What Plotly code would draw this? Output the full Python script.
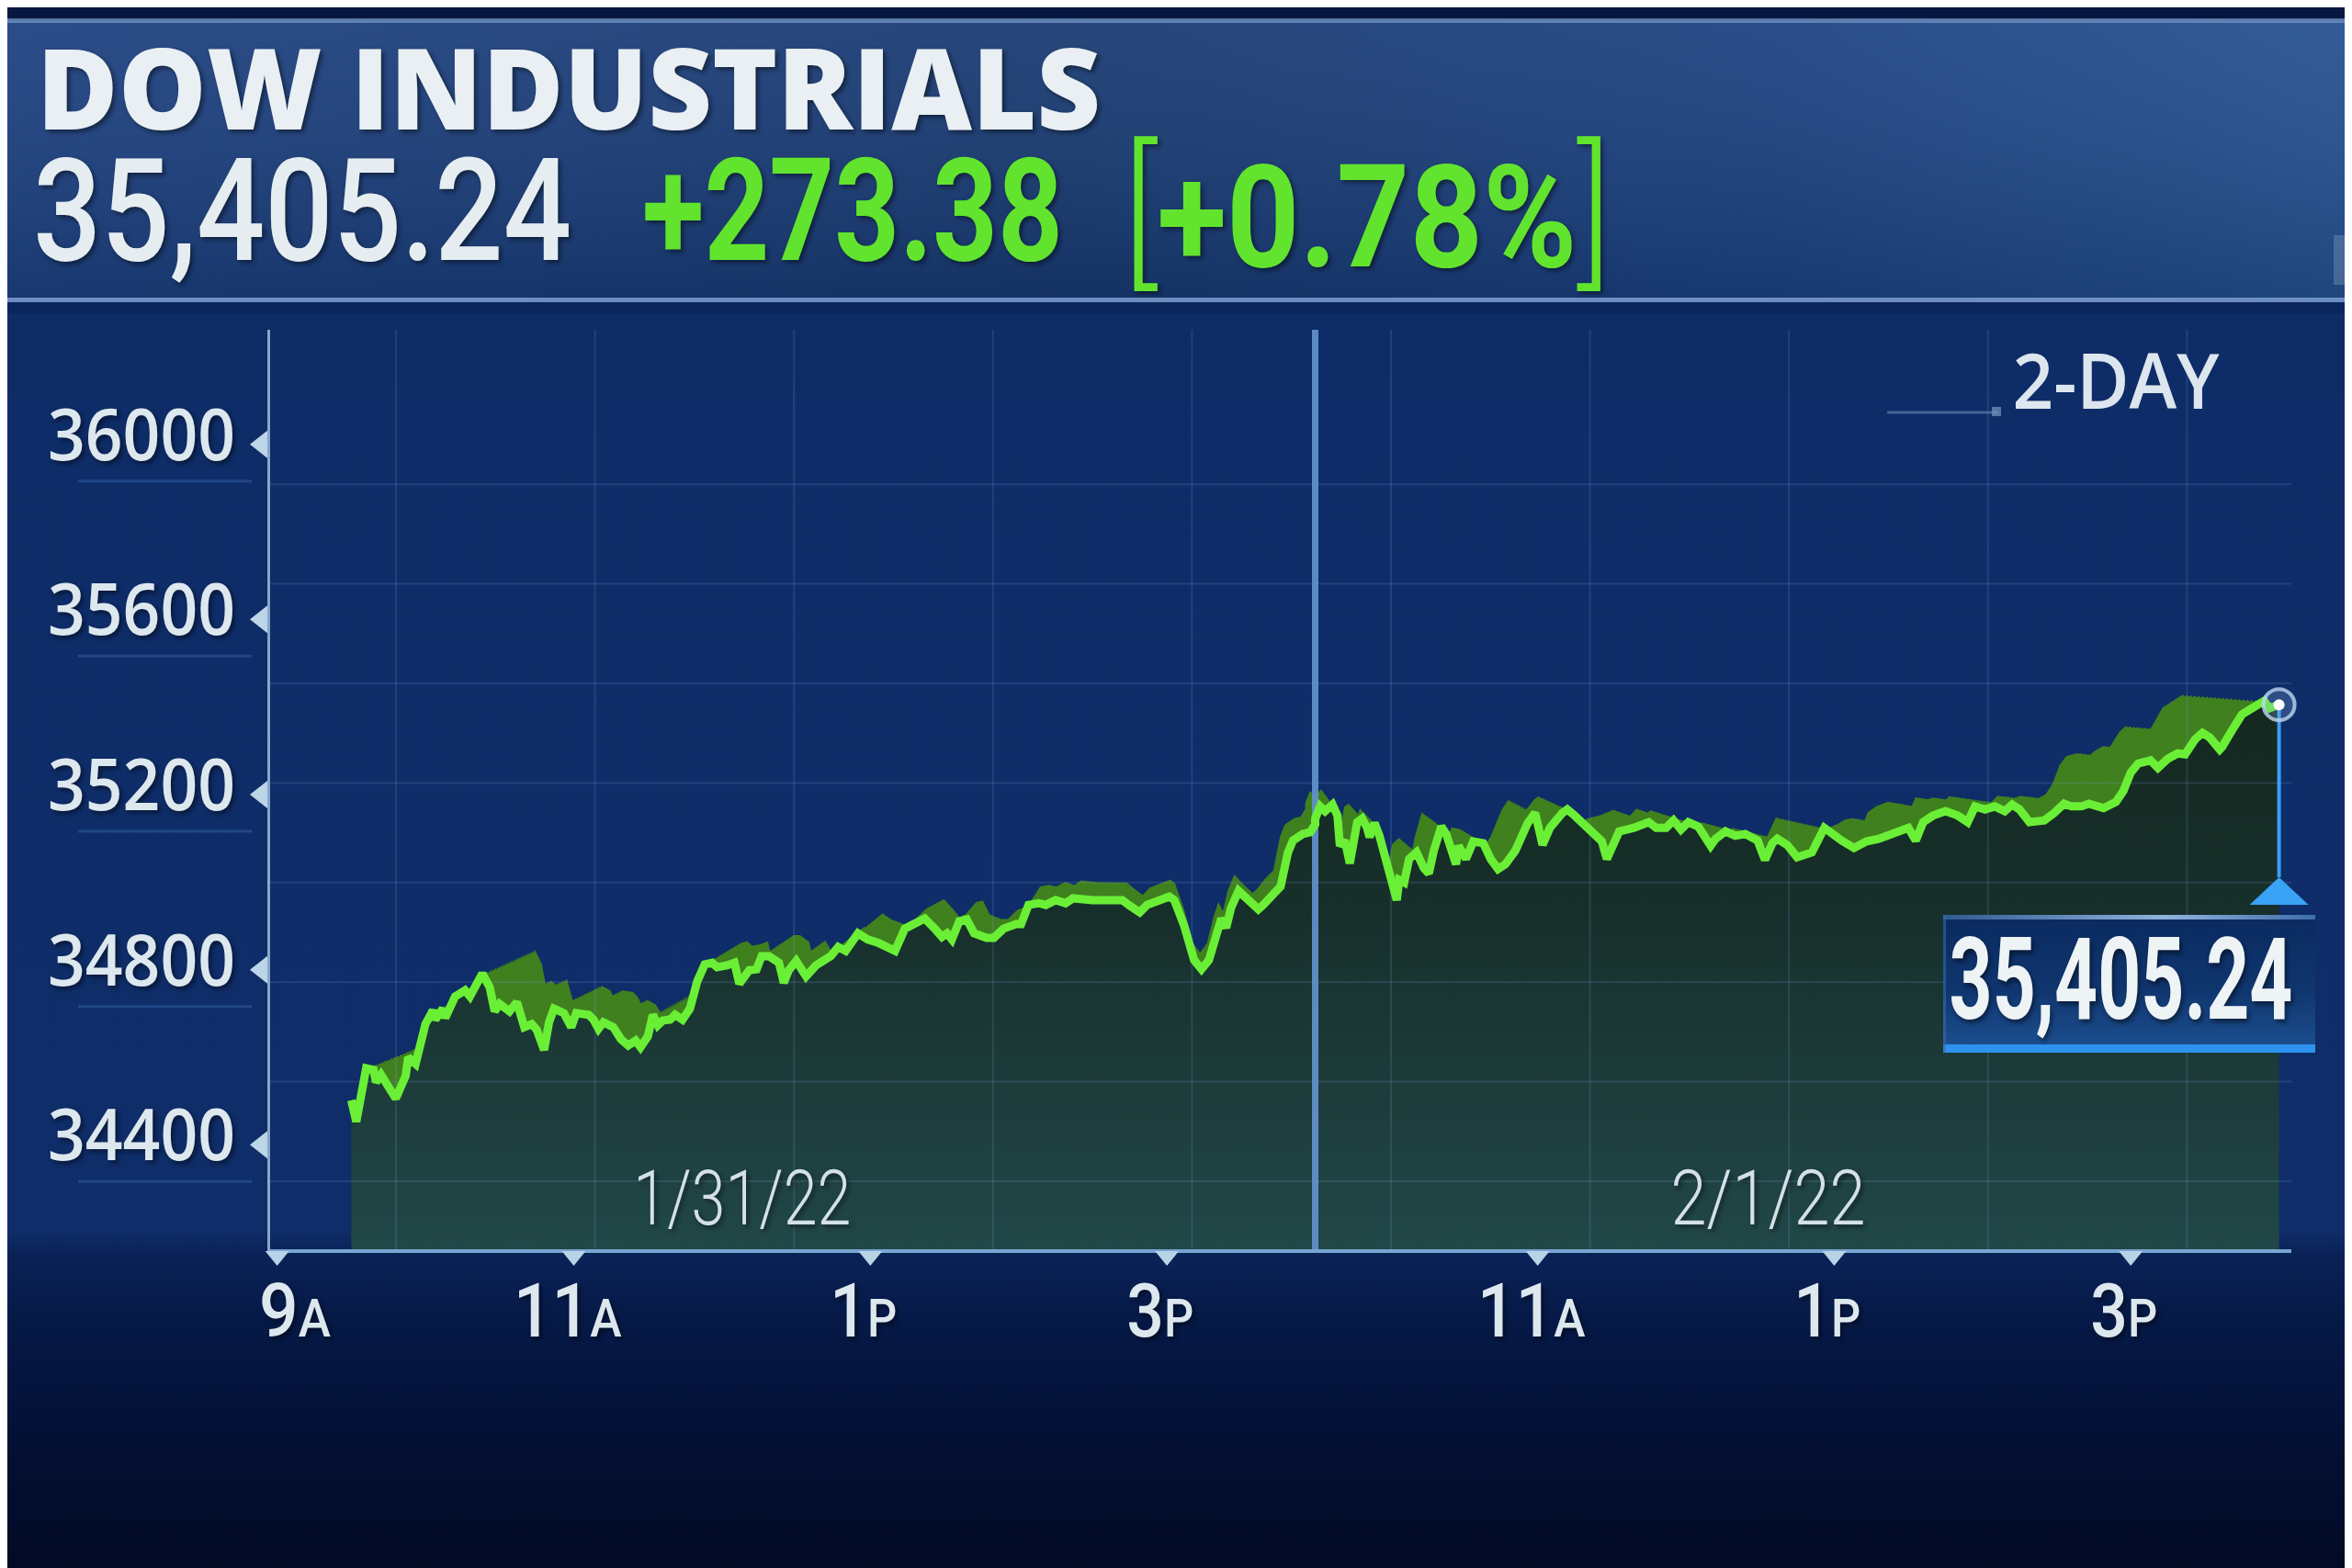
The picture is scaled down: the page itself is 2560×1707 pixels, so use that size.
import base64
import json
import plotly.graph_objects as go

# ---------------- data ----------------
INDEX_NAME = "DOW INDUSTRIALS"
LAST = 35405.24
CHANGE = 273.38
PCT = 0.78
PERIOD = "2-DAY"
DATES = ["1/31/22", "2/1/22"]

# minutes after the 9:30 open, session of 1/31/22
day1_min = [0, 2, 6, 9, 10, 12, 18, 22, 23, 26,
            30, 33, 34, 37, 38, 42, 46, 48, 53, 56,
            58, 60, 64, 67, 70, 73, 75, 78, 80, 82,
            86, 89, 91, 96, 98, 100, 102, 106, 109, 112,
            115, 117, 120, 122, 124, 126, 129, 131, 134, 137,
            140, 143, 146, 148, 152, 155, 157, 161, 164, 166,
            169, 173, 175, 177, 180, 184, 188, 194, 197, 200,
            205, 209, 213, 217, 220, 224, 232, 236, 239, 241,
            243, 246, 249, 252, 257, 260, 264, 269, 271, 274,
            278, 281, 285, 289, 292, 300, 312, 315, 319, 322,
            331, 333, 337, 341, 344, 347, 350, 352, 354, 356,
            359, 362, 367, 369, 372, 374, 376, 379, 381, 385,
            388, 390]
day1_val = [34502, 34453, 34575, 34571, 34543, 34560, 34506, 34558, 34600, 34585,
            34676, 34707, 34686, 34711, 34690, 34739, 34753, 34739, 34791, 34760,
            34705, 34722, 34705, 34726, 34669, 34676, 34663, 34617, 34680, 34711,
            34701, 34669, 34701, 34697, 34686, 34665, 34680, 34669, 34642, 34627,
            34638, 34623, 34648, 34697, 34673, 34684, 34686, 34697, 34686, 34711,
            34774, 34812, 34816, 34806, 34810, 34816, 34768, 34799, 34801, 34831,
            34831, 34816, 34770, 34799, 34820, 34785, 34810, 34831, 34852, 34843,
            34883, 34869, 34862, 34852, 34843, 34894, 34917, 34894, 34875, 34883,
            34869, 34911, 34915, 34883, 34873, 34873, 34894, 34904, 34904, 34948,
            34952, 34948, 34959, 34952, 34963, 34959, 34959, 34946, 34931, 34948,
            34967, 34959, 34900, 34822, 34801, 34822, 34885, 34917, 34896, 34942,
            34980, 34963, 34938, 34948, 34969, 34980, 34990, 35068, 35095, 35110,
            35114, 35131.86]

# minutes after the 9:30 open, session of 2/1/22
day2_min = [0, 2, 4, 7, 9, 10, 12, 14, 17, 19,
            21, 22, 24, 26, 28, 30, 33, 34, 36, 38,
            41, 44, 46, 48, 51, 53, 57, 58, 61, 64,
            68, 71, 74, 77, 81, 86, 89, 92, 95, 100,
            102, 105, 110, 113, 116, 118, 121, 123, 129, 132,
            135, 138, 142, 145, 148, 151, 155, 160, 162, 166,
            170, 174, 179, 182, 185, 187, 191, 195, 201, 206,
            209, 213, 218, 223, 228, 233, 236, 240, 243, 246,
            250, 255, 260, 264, 267, 271, 275, 279, 282, 285,
            289, 295, 299, 303, 306, 310, 313, 319, 324, 327,
            330, 333, 338, 341, 345, 349, 352, 356, 359, 362,
            366, 367, 371, 375, 379, 384, 386, 390]
day2_val = [35145, 35173, 35162, 35177, 35152, 35083, 35095, 35043, 35137, 35145,
            35124, 35103, 35135, 35106, 35068, 35020, 34959, 35005, 34999, 35053,
            35068, 35032, 35020, 35072, 35127, 35110, 35041, 35083, 35053, 35093,
            35089, 35053, 35030, 35041, 35072, 35135, 35158, 35085, 35124, 35158,
            35166, 35152, 35124, 35106, 35093, 35053, 35089, 35116, 35124, 35131,
            35137, 35124, 35124, 35141, 35120, 35137, 35127, 35083, 35099, 35116,
            35106, 35110, 35095, 35051, 35089, 35099, 35085, 35057, 35068, 35124,
            35110, 35095, 35078, 35093, 35099, 35110, 35120, 35124, 35095, 35137,
            35152, 35162, 35152, 35137, 35173, 35166, 35173, 35162, 35177, 35166,
            35137, 35141, 35158, 35179, 35173, 35173, 35179, 35169, 35183, 35208,
            35250, 35271, 35278, 35261, 35282, 35294, 35292, 35326, 35341, 35330,
            35303, 35309, 35347, 35383, 35397, 35414, 35397, 35405.24]

y_ticks = [34400, 34800, 35200, 35600, 36000]
x_tick_hours = [-0.5, 1.5, 3.5, 5.5, 8.0, 10.0, 12.0]   # 9A 11A 1P 3P | 11A 1P 3P
x_tick_nums = ["9", "11", "1", "3", "11", "1", "3"]
x_tick_suffix = ["A", "A", "P", "P", "A", "P", "P"]
SESSION_H = 6.5

# ---------------- geometry / scales ----------------
W, H = 2560, 1707
PL, PR, PT, PB = 286, 2486, 351, 1352
X0, XS = 374.4, 161.4            # pixel of session-1 open, pixels per hour
YC, YP, YS = 35200, 857, 0.4767  # value, its pixel, pixels per point


def t_of(px):
    return (px - X0) / XS


def v_of(py):
    return YC + (YP - py) / YS


def px_of_t(t):
    return X0 + XS * t


def py_of_v(v):
    return YP - (v - YC) * YS


def pxp(px):
    return (px - PL) / (PR - PL)


def pyp(py):
    return (PB - py) / (PB - PT)


xr = [t_of(PL), t_of(PR)]
yr = [v_of(PB), v_of(PT)]

x_all = [m / 60 for m in day1_min] + [SESSION_H + m / 60 for m in day2_min]
y_all = day1_val + day2_val

TXT = "Roboto, Open Sans, sans-serif"
WIDE = "Open Sans, Lato, DejaVu Sans, sans-serif"

fig = go.Figure()

# --- 3D ribbon (swept copies of the line toward the back) ---
N = 20
RIB = "#40801f"
for k in range(N, 0, -1):
    s = k / N
    xs, ys = [], []
    for t, v in zip(x_all, y_all):
        f = (px_of_t(t) - 400) / 2050
        dx = 66 - 154 * f
        dup = 27 - 20 * f
        xs.append(t + s * dx / XS)
        ys.append(v + s * dup / YS)
    fig.add_trace(go.Scatter(x=xs, y=ys, mode="lines", line=dict(width=0, color=RIB),
                             fill="tozeroy", fillcolor=RIB, hoverinfo="skip"))

# --- front area ---
fig.add_trace(go.Scatter(
    x=x_all, y=y_all, mode="lines", line=dict(width=0, color="#17302a"),
    fill="tozeroy",
    fillgradient=dict(type="vertical",
                      colorscale=[[0, "#214748"], [0.25, "#1d3d3c"], [0.6, "#172f2b"], [1, "#15281f"]],
                      start=yr[0], stop=35450),
    hoverinfo="skip"))

# --- grid (drawn over the area, under the line) ---
gx, gy = [], []
for k in range(8):
    py = 1278 - 108.4 * k
    gx += [t_of(PL), t_of(PR), None]
    gy += [v_of(py), v_of(py), None]
for k in range(10):
    px = 423 + 216.6 * k
    gx += [t_of(px), t_of(px), None]
    gy += [yr[0], yr[1], None]
fig.add_trace(go.Scatter(x=gx, y=gy, mode="lines",
                         line=dict(width=2, color="rgba(120,160,220,0.18)"), hoverinfo="skip"))

# --- session divider ---
fig.add_trace(go.Scatter(x=[SESSION_H, SESSION_H], y=[yr[0], v_of(343)], mode="lines",
                         line=dict(width=7, color="rgba(98,146,205,0.92)"), hoverinfo="skip",
                         cliponaxis=False))

# --- the price line ---
fig.add_trace(go.Scatter(x=x_all, y=y_all, mode="lines",
                         line=dict(width=9, color="#6aef36"), hoverinfo="skip"))

# --- end marker ---
xe, ye = x_all[-1], y_all[-1]
fig.add_trace(go.Scatter(x=[xe, xe], y=[ye, v_of(947)], mode="lines",
                         line=dict(width=4, color="#3aa0f2"), hoverinfo="skip", cliponaxis=False))
fig.add_trace(go.Scatter(x=[xe], y=[ye], mode="markers", hoverinfo="skip", cliponaxis=False,
                         marker=dict(size=34, color="rgba(140,180,230,0.25)",
                                     line=dict(width=4, color="rgba(190,215,240,0.8)"))))
fig.add_trace(go.Scatter(x=[xe], y=[ye], mode="markers", hoverinfo="skip", cliponaxis=False,
                         marker=dict(size=12, color="#ffffff")))

# ---------------- background ----------------
bg_svg = """<svg xmlns="http://www.w3.org/2000/svg" width="2560" height="1707" viewBox="0 0 2560 1707">
<defs>
<linearGradient id="g1" x1="0" y1="0" x2="0" y2="1">
<stop offset="0" stop-color="#0b2860"/><stop offset="0.25" stop-color="#0e2c67"/>
<stop offset="0.78" stop-color="#0f2d69"/><stop offset="0.795" stop-color="#0a2257"/>
<stop offset="0.84" stop-color="#061946"/><stop offset="0.92" stop-color="#030f33"/>
<stop offset="1" stop-color="#020a24"/></linearGradient>
<linearGradient id="hd" x1="0" y1="0" x2="1" y2="0">
<stop offset="0" stop-color="#1b3f7f"/><stop offset="0.45" stop-color="#163870"/>
<stop offset="0.75" stop-color="#1a4080"/><stop offset="1" stop-color="#24508f"/></linearGradient>
<linearGradient id="hv" x1="0" y1="0" x2="0" y2="1">
<stop offset="0" stop-color="#ffffff" stop-opacity="0.07"/><stop offset="1" stop-color="#000000" stop-opacity="0.12"/></linearGradient>
</defs>
<rect width="2560" height="1707" fill="url(#g1)"/>
<rect x="0" y="0" width="2560" height="14" fill="#06183f"/>
<rect x="0" y="14" width="2560" height="304" fill="url(#hd)"/>
<rect x="0" y="14" width="2560" height="304" fill="url(#hv)"/>
<rect x="0" y="12" width="2560" height="5" fill="#6d8fc0" opacity="0.8"/>
<rect x="0" y="316" width="2560" height="5" fill="#7c9fd0" opacity="0.85"/>
<rect x="0" y="321" width="2560" height="12" fill="#0a2358" opacity="0.6"/>
<rect x="2532" y="248" width="28" height="54" fill="#8da4c4" opacity="0.35"/>
</svg>"""
box_svg = """<svg xmlns="http://www.w3.org/2000/svg" width="405" height="150" viewBox="0 0 405 150">
<defs><linearGradient id="b" x1="0" y1="0" x2="0" y2="1">
<stop offset="0" stop-color="#0a2a60"/><stop offset="0.55" stop-color="#10366f"/><stop offset="1" stop-color="#1d5192"/></linearGradient>
<linearGradient id="t" x1="0" y1="0" x2="1" y2="0">
<stop offset="0" stop-color="#2e5a92"/><stop offset="0.6" stop-color="#8fb2dc"/><stop offset="1" stop-color="#3f6ea8"/></linearGradient></defs>
<rect width="405" height="150" fill="url(#b)"/>
<rect width="405" height="5" fill="url(#t)"/>
<rect y="141" width="405" height="9" fill="#2e93ee"/>
<rect width="3" height="150" fill="#3a6aa5" opacity="0.6"/>
</svg>"""


def uri(svg):
    return "data:image/svg+xml;base64," + base64.b64encode(svg.encode()).decode()


images = [
    dict(source=uri(bg_svg), xref="paper", yref="paper", x=pxp(0), y=pyp(0),
         sizex=W / (PR - PL), sizey=H / (PB - PT), xanchor="left", yanchor="top",
         sizing="stretch", layer="below"),
    dict(source=uri(box_svg), xref="paper", yref="paper", x=pxp(2107), y=pyp(988),
         sizex=405 / (PR - PL), sizey=150 / (PB - PT), xanchor="left", yanchor="top",
         sizing="stretch", layer="above"),
]


def tri(pts, color):
    path = "M " + " L ".join(f"{pxp(a)},{pyp(b)}" for a, b in pts) + " Z"
    return dict(type="path", xref="paper", yref="paper", path=path, fillcolor=color,
                line=dict(width=0), layer="above")


shapes = []
for v in y_ticks:
    py = py_of_v(v)
    shapes.append(dict(type="line", xref="paper", yref="paper", x0=pxp(77), x1=pxp(266),
                       y0=pyp(py + 40), y1=pyp(py + 40),
                       line=dict(color="rgba(70,120,190,0.35)", width=3)))
    shapes.append(tri([(264, py), (283, py - 15), (283, py + 15)], "#bcd6e8"))
for t in x_tick_hours:
    px = px_of_t(t)
    shapes.append(tri([(px - 13, 1354), (px + 13, 1354), (px, 1370)], "#b8d3e6"))
# triangle under the end marker
pxe = px_of_t(xe)
shapes.append(tri([(pxe - 32, 977), (pxe + 32, 977), (pxe, 947)], "#3aa3f5"))
# rule next to the period label
shapes.append(dict(type="line", xref="paper", yref="paper", x0=pxp(2046), x1=pxp(2166),
                   y0=pyp(441), y1=pyp(441), line=dict(color="rgba(90,125,175,0.7)", width=3)))
shapes.append(dict(type="rect", xref="paper", yref="paper", x0=pxp(2160), x1=pxp(2170),
                   y0=pyp(445), y1=pyp(435), fillcolor="rgba(120,150,190,0.7)", line=dict(width=0)))

SH = "3px 3px 5px rgba(0,0,0,0.45)"
ann = []
squeeze = []   # (annotation index, width in px, pivot)


def add(text, px, py, size, family, color, weight=400, anchor="left", width=None, shadow=SH):
    xa = {"l": "left", "c": "center", "r": "right"}[anchor[0]]
    ann.append(dict(text=text, x=pxp(px), y=pyp(py), xref="paper", yref="paper",
                    xanchor=xa, yanchor="middle", showarrow=False,
                    font=dict(family=family, size=size, color=color, weight=weight, shadow=shadow)))
    if width:
        squeeze.append([len(ann) - 1, width, anchor[0]])


add(INDEX_NAME, 30, 86, 122, WIDE, "#e9eff3", 800, "l", 1158)
add(f"{LAST:,.2f}", 26, 222, 155, TXT, "#e6edf1", 500, "l", 586)
add(f"+{CHANGE:,.2f}", 689, 222, 155, TXT, "#62e42e", 700, "l", 458)
add(f"<span style='font-weight:300;font-size:175px'>[</span>+{PCT:.2f}%"
    f"<span style='font-weight:300;font-size:175px'>]</span>",
    1212, 222, 155, TXT, "#62e42e", 700, "l", 532)
add(PERIOD, 2295, 404, 84, WIDE, "#dde6ee", 600, "c", 226, shadow="none")
add(DATES[0], 800, 1296, 84, TXT, "#d3e0e9", 300, "c", 237)
add(DATES[1], 1916, 1296, 84, TXT, "#d3e0e9", 300, "c", 212)
add(f"{LAST:,.2f}", 2300, 1058, 125, TXT, "#eef3f6", 700, "c", 374)

for v in y_ticks:
    add(f"{v}", 250, py_of_v(v) - 13, 78, WIDE, "#dde7ee", 600, "r", 204)

x_lab_w = {"9A": 78, "11A": 118, "1P": 73, "3P": 73}
for i, (t, n, s) in enumerate(zip(x_tick_hours, x_tick_nums, x_tick_suffix)):
    txt = f"{n}<span style='font-size:58px'>{s}</span>"
    if i == 0:
        add(txt, PL - 14, 1419, 82, TXT, "#dce7ee", 500, "l", x_lab_w[n + s])
    else:
        add(txt, px_of_t(t) - 7, 1419, 82, TXT, "#dce7ee", 500, "c", x_lab_w[n + s])

fig.update_layout(
    width=W, height=H, autosize=False,
    margin=dict(l=PL, r=W - PR, t=PT, b=H - PB, pad=0),
    paper_bgcolor="#0d2a62", plot_bgcolor="rgba(0,0,0,0)",
    showlegend=False, hovermode=False,
    images=images, shapes=shapes, annotations=ann,
    xaxis=dict(range=xr, showgrid=False, zeroline=False, showline=True,
               linecolor="#78a6d2", linewidth=4, ticks="", showticklabels=False),
    yaxis=dict(range=yr, showgrid=False, zeroline=False, showline=True,
               linecolor="#8aa6c8", linewidth=3, ticks="", showticklabels=False),
)

post = """
(function(){
  var gd = document.getElementById('{plot_id}');
  var specs = SPECS;
  function apply(){
    specs.forEach(function(s){
      var el = gd.querySelector('.annotation[data-index="' + s[0] + '"] text.annotation-text');
      if (!el) return;
      var orig = el.getAttribute('data-orig-tf');
      if (orig === null) { orig = el.getAttribute('transform') || ''; el.setAttribute('data-orig-tf', orig); }
      var b = el.getBBox();
      if (!b.width) return;
      var k = s[1] / b.width;
      var p = s[2] === 'l' ? b.x : (s[2] === 'r' ? b.x + b.width : b.x + b.width / 2);
      el.setAttribute('transform', orig + ' translate(' + p + ',0) scale(' + k + ',1) translate(' + (-p) + ',0)');
    });
  }
  apply();
  if (gd.on) gd.on('plotly_afterplot', apply);
  setTimeout(apply, 150); setTimeout(apply, 800);
  if (document.fonts && document.fonts.ready) document.fonts.ready.then(apply);
})();
""".replace("SPECS", json.dumps(squeeze))

fig.write_html("out.html", post_script=post)
